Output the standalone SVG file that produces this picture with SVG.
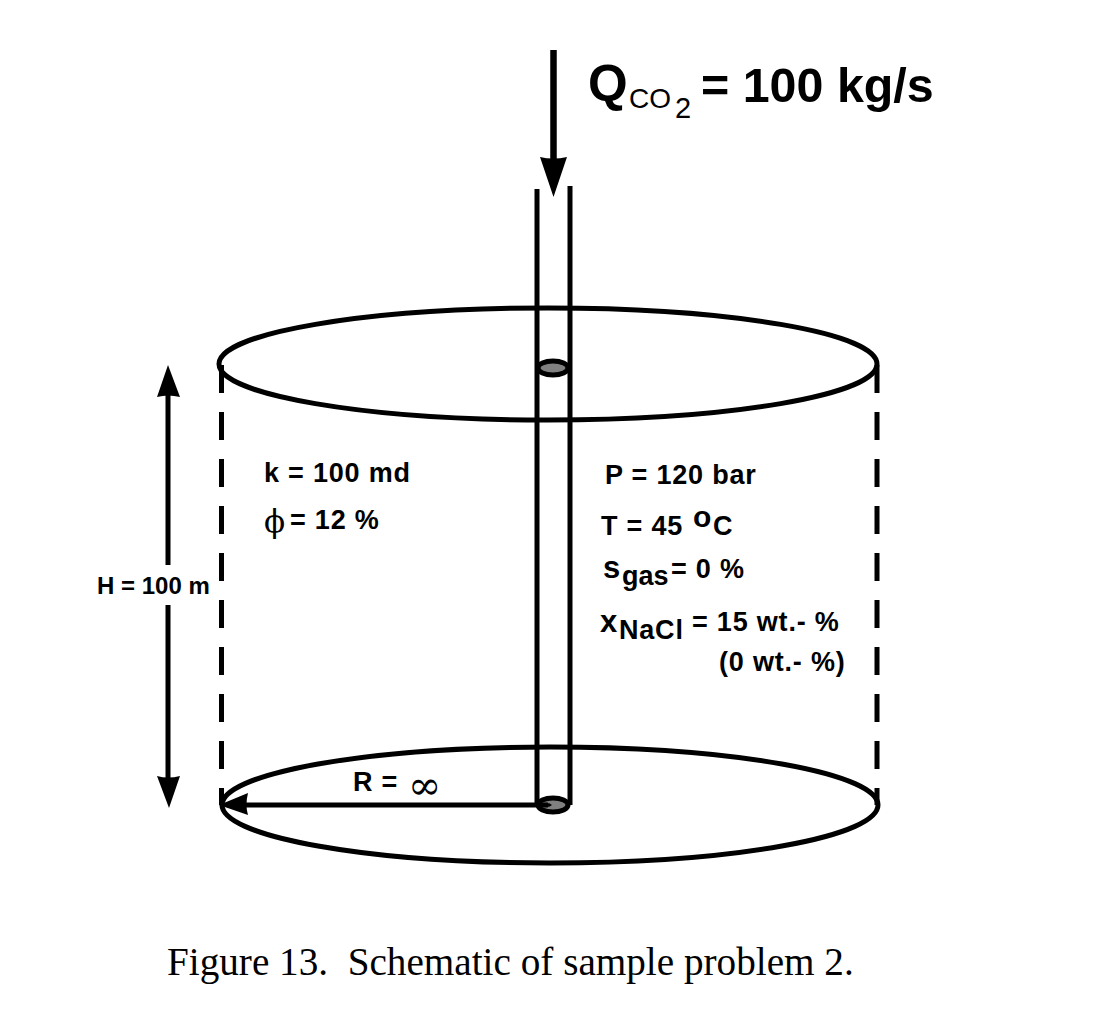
<svg xmlns="http://www.w3.org/2000/svg" width="1114" height="1027" viewBox="0 0 1114 1027">
<style>
.s{fill:none;stroke:#000;stroke-width:5}
.d{fill:none;stroke:#000;stroke-width:5;stroke-dasharray:28 19}
.a{fill:#000;stroke:none}
text{font-family:"Liberation Sans",Arial,sans-serif;font-weight:bold;fill:#000}
.l{font-size:27px;letter-spacing:.8px}
.sym{font-family:"DejaVu Serif","Liberation Serif",serif;font-weight:normal}
.n{font-weight:normal}
</style>
<rect width="1114" height="1027" fill="#fff"/>
<g id="cylinder">
<ellipse class="s" cx="548" cy="364" rx="329" ry="56"/>
<ellipse class="s" cx="550" cy="805" rx="328" ry="58"/>
<path class="d" d="M221.500 365V805"/>
<path class="d" d="M877 365V805"/>
</g>
<g id="well">
<path class="s" d="M537 189V805"/>
<path class="s" d="M570 186V805"/>
<ellipse cx="553" cy="368" rx="15" ry="7" fill="#808080" stroke="#000" stroke-width="5"/>
<ellipse cx="553" cy="805" rx="15" ry="7" fill="#808080" stroke="#000" stroke-width="5"/>
</g>
<g id="connectors">
<path class="s" style="stroke-width:6.500" d="M553.500 50V160"/>
<path class="a" d="M540 157Q553 160 567 157L553.500 197Z"/>
<path class="s" d="M168 392V565"/>
<path class="a" d="M157 397Q168 394 180 397L168 365Z"/>
<path class="s" d="M168 605V780"/>
<path class="a" d="M157 776Q168 779 180 776L169 808Z"/>
<path class="s" d="M245 805H548"/>
<path class="a" d="M248 793Q245 805 248 815L219 805Z"/>
<path d="M540 805q8 -4 12 0q-4 4 -12 0z" class="a"/>
</g>
<g id="labels">
<text x="588" y="101" font-size="51">Q</text>
<text x="629" y="108" font-size="28" class="n">CO</text>
<text x="675" y="118" font-size="29" class="n">2</text>
<text x="701" y="102" font-size="48.400">= 100 kg/s</text>
<text x="264" y="482" class="l">k = 100 md</text>
<text x="264" y="532" font-size="31" class="sym">ϕ</text>
<text x="290" y="529" class="l">= 12 %</text>
<text x="97" y="594" font-size="24">H = 100 m</text>
<text x="605" y="484" class="l">P = 120 bar</text>
<text x="601" y="535" class="l">T = 45</text>
<text x="693" y="527" font-size="30">o</text>
<text x="713" y="535" class="l">C</text>
<text x="603" y="578" font-size="31">s</text>
<text x="622" y="585" class="l" style="letter-spacing:0">gas</text>
<text x="671" y="578" class="l">= 0 %</text>
<text x="600" y="632" font-size="31">x</text>
<text x="619" y="639" class="l">NaCl</text>
<text x="692" y="631" class="l">= 15 wt.- %</text>
<text x="719" y="671" class="l">(0 wt.- %)</text>
<text x="353" y="791" class="l">R =</text>
<text x="408" y="799" font-size="40" class="sym">∞</text>
<text x="167" y="975" font-size="39.200" class="n" xml:space="preserve" style="font-family:'Liberation Serif',serif">Figure 13.  Schematic of sample problem 2.</text>
</g>
</svg>
